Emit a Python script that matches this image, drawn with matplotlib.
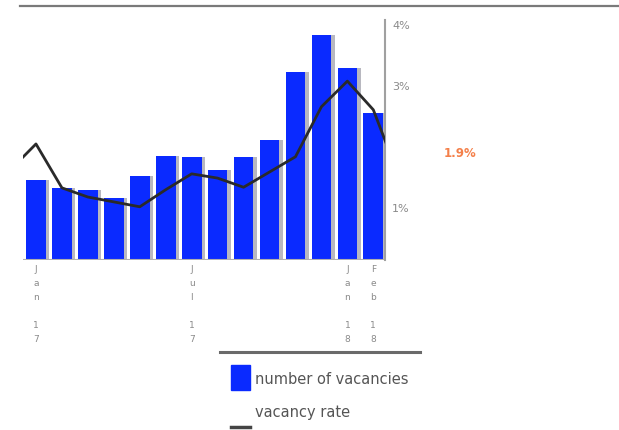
import matplotlib
matplotlib.use("Agg")
import matplotlib.pyplot as plt
from matplotlib.patches import Rectangle
from matplotlib.lines import Line2D

# ---- data ----
months = ["Jan 17", "Feb 17", "Mar 17", "Apr 17", "May 17", "Jun 17", "Jul 17",
          "Aug 17", "Sep 17", "Oct 17", "Nov 17", "Dec 17", "Jan 18", "Feb 18"]
tick_labels = {0: ("Jan", "17"), 6: ("Jul", "17"), 12: ("Jan", "18"), 13: ("Feb", "18")}
vacancies = [80, 72, 70, 62, 84, 104, 103, 90, 103, 120, 188, 225, 192, 147]
# vacancy rate (%), including the month before and after (clipped at the edges)
rate_x = [-1, 0, 1, 2, 3, 4, 5, 6, 7, 8, 9, 10, 11, 12, 13, 14]
rate = [1.62, 2.05, 1.33, 1.18, 1.10, 1.02, 1.30, 1.56, 1.49, 1.34, 1.59,
        1.84, 2.66, 3.08, 2.61, 1.50]
latest_label = "1.9%"
right_ticks = [1, 3, 4]

W, H = 619, 430
fig = plt.figure(figsize=(W / 100, H / 100), dpi=100)

L, R, T, B = 23, 385, 20, 260
ax = fig.add_axes([L / W, 1 - B / H, (R - L) / W, (B - T) / H])
ax.set_xlim(-0.5, 13.45)
ax.set_ylim(0, 260 - 20)
for s in ax.spines.values():
    s.set_visible(False)
ax.set_yticks([])
ax.set_xticks([])

x = list(range(len(vacancies)))
# shadow bars
ax.bar([i + 0.12 for i in x], vacancies, width=0.78, color="#b8b8c0", zorder=1)
ax.bar(x, vacancies, width=0.76, color="#0a2aff", zorder=2)
ax.axhline(0, color="#b0b0b0", lw=1.5, zorder=3)

# x tick labels: stacked vertical characters
for i, (mon, yr) in tick_labels.items():
    txt = "\n".join(list(mon) + [" "] + list(yr))
    ax.text(i, -5, txt, ha="center", va="top", fontsize=6.5, color="#8a8a8a",
            linespacing=1.7, family="DejaVu Sans")

# right axis for vacancy rate
ax2 = ax.twinx()
ax2.set_xlim(-0.5, 13.45)
# 0% at y=269px, 1% per 61px
ymin = (269 - B) / 61
ymax = (269 - T) / 61
ax2.set_ylim(ymin, ymax)
for s in ["left", "top", "bottom"]:
    ax2.spines[s].set_visible(False)
ax2.spines["right"].set_color("#a0a0a0")
ax2.spines["right"].set_linewidth(1.5)
ax2.spines["right"].set_zorder(0)
ax2.set_yticks(right_ticks)
ax2.set_yticklabels([f"{t}%" for t in right_ticks])
ax2.tick_params(axis="y", length=0, pad=5, labelsize=8, labelcolor="#8a8a8a")
ax2.plot(rate_x, rate, color="#2a2a2a", lw=2.0, zorder=5, clip_on=True)
ax.set_zorder(1)
ax2.set_zorder(2)
ax2.patch.set_visible(False)

ax2.text(1.0 + 75 / (R - L), 1.9, latest_label, transform=ax2.get_yaxis_transform(),
         ha="center", va="center", fontsize=8.5, fontweight="bold", color="#f4804a")

# top rule
fig.add_artist(Line2D([20 / W, 1.0], [1 - 6 / H, 1 - 6 / H], color="#7a7a7a", lw=1.6))
# legend rule
fig.add_artist(Line2D([220 / W, 420 / W], [1 - 352 / H, 1 - 352 / H], color="#6a6a6a", lw=2.2))

# legend
fig.add_artist(Rectangle((231 / W, 1 - 390 / H), 19 / W, 25 / H, color="#0a2aff"))
fig.text(255 / W, 1 - 379 / H, "number of vacancies", ha="left", va="center",
         fontsize=10.5, color="#555555", family=["Liberation Sans Narrow", "DejaVu Sans"])
fig.add_artist(Line2D([231 / W, 250 / W], [1 - 427 / H, 1 - 427 / H], color="#444444", lw=2.5))
fig.text(255 / W, 1 - 412 / H, "vacancy rate", ha="left", va="center",
         fontsize=10.5, color="#555555", family=["Liberation Sans Narrow", "DejaVu Sans"])

fig.savefig("out.png", dpi=100)
